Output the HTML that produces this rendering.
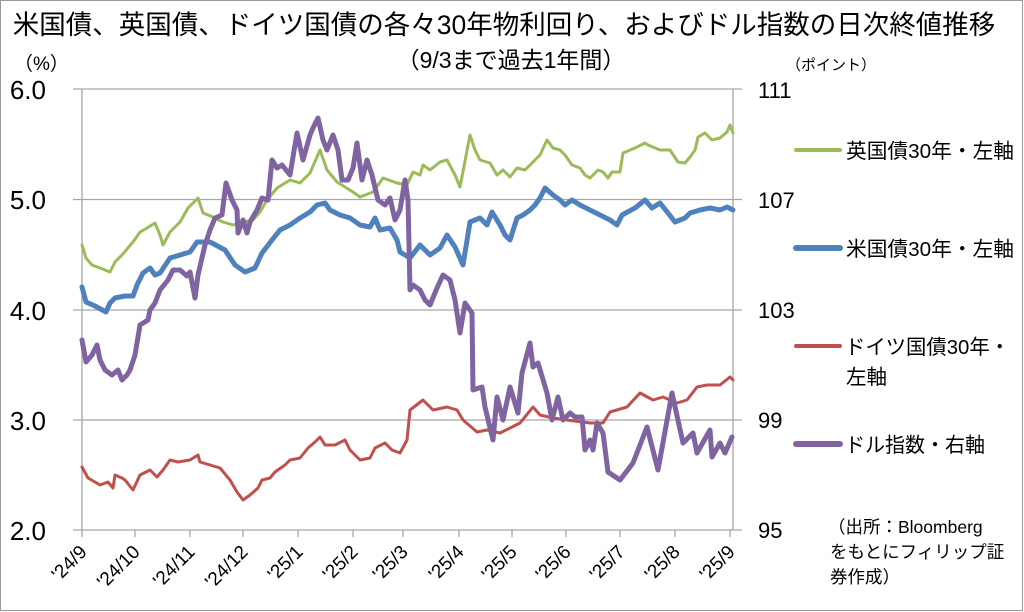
<!DOCTYPE html>
<html><head><meta charset="utf-8"><style>
body{margin:0;background:#fff;}
svg{display:block;font-family:"Liberation Sans","Noto Sans CJK JP",sans-serif;}
</style></head><body>
<svg width="1024" height="612" viewBox="0 0 1024 612" xmlns="http://www.w3.org/2000/svg">
<rect x="0.5" y="0.5" width="1022" height="610" fill="#fff" stroke="#999" stroke-width="1"/>
<text x="504" y="34" font-size="26.5" text-anchor="middle" fill="#000">米国債、英国債、ドイツ国債の各々30年物利回り、およびドル指数の日次終値推移</text>
<text x="511" y="68" font-size="23" text-anchor="middle" fill="#000">（9/3まで過去1年間）</text>
<text x="14" y="70" font-size="19" fill="#000">（%）</text>
<text x="786" y="70" font-size="15" fill="#000">（ポイント）</text>
<g stroke="#a6a6a6" stroke-width="1.3" fill="none">
<line x1="73" y1="89" x2="742" y2="89"/>
<line x1="73" y1="199.5" x2="742" y2="199.5"/>
<line x1="73" y1="310" x2="742" y2="310"/>
<line x1="73" y1="420" x2="742" y2="420"/>
<line x1="73" y1="530" x2="742" y2="530"/>
<line x1="82" y1="89" x2="82" y2="530"/>
<line x1="733" y1="89" x2="733" y2="530"/>
<path d="M82 530v7M135 530v7M190 530v7M243 530v7M298 530v7M353 530v7M403 530v7M459 530v7M512 530v7M566 530v7M620 530v7M675 530v7M730 530v7"/>
</g>
<g font-size="26" fill="#000" text-anchor="end">
<text x="46" y="99">6.0</text><text x="46" y="209">5.0</text><text x="46" y="320">4.0</text><text x="46" y="430">3.0</text><text x="46" y="540">2.0</text>
</g>
<g font-size="22" fill="#000">
<text x="758" y="98">111</text><text x="758" y="208">107</text><text x="758" y="318">103</text><text x="758" y="428">99</text><text x="758" y="538">95</text>
</g>
<g font-size="19" fill="#000" text-anchor="end">
<text transform="translate(88,553) rotate(-45)">'24/9</text>
<text transform="translate(141,553) rotate(-45)">'24/10</text>
<text transform="translate(196,553) rotate(-45)">'24/11</text>
<text transform="translate(249,553) rotate(-45)">'24/12</text>
<text transform="translate(304,553) rotate(-45)">'25/1</text>
<text transform="translate(359,553) rotate(-45)">'25/2</text>
<text transform="translate(409,553) rotate(-45)">'25/3</text>
<text transform="translate(465,553) rotate(-45)">'25/4</text>
<text transform="translate(518,553) rotate(-45)">'25/5</text>
<text transform="translate(572,553) rotate(-45)">'25/6</text>
<text transform="translate(626,553) rotate(-45)">'25/7</text>
<text transform="translate(681,553) rotate(-45)">'25/8</text>
<text transform="translate(736,553) rotate(-45)">'25/9</text>
</g>
<g fill="none" stroke-linejoin="round" stroke-linecap="round">
<polyline stroke="#C0504D" stroke-width="3" points="82,467 88,478 95,482 100,485 108,482 113,488 115,475 122,478 125,480 133,490 140,475 150,470 157,477 163,470 170,460 178,462 190,460 198,455 200,462 210,465 220,468 230,480 237,492 243,500 250,495 258,488 262,480 270,478 275,472 285,465 290,460 300,458 308,448 315,442 320,437 325,445 335,445 345,440 350,450 360,460 370,458 375,448 385,443 392,450 400,453 407,440 410,410 423,400 433,410 447,407 457,410 463,420 477,432 487,430 500,433 510,428 520,423 533,407 540,415 553,418 567,420 590,423 603,423 610,412 627,407 640,393 653,400 663,397 677,403 687,400 697,387 707,385 720,385 730,377 733,380"/>
<polyline stroke="#9BBB59" stroke-width="3" points="82,245 86,258 92,265 100,268 110,272 115,262 122,255 133,242 140,232 147,228 155,223 160,235 163,245 170,232 180,222 188,208 198,198 203,213 213,217 223,222 233,225 243,222 253,220 260,212 267,200 277,188 290,180 300,183 310,173 320,150 327,170 337,182 353,192 360,197 373,192 383,178 397,183 407,185 413,172 420,175 423,165 430,170 440,162 447,160 455,175 460,187 470,135 475,150 480,160 490,163 497,175 503,170 510,177 517,168 525,170 533,162 540,155 547,140 553,148 560,150 565,155 572,165 580,168 585,175 590,178 598,170 603,172 608,178 612,172 620,172 623,153 635,148 645,143 648,145 660,150 670,150 678,162 685,163 690,157 695,150 698,137 705,133 712,140 720,138 727,132 730,125 733,133"/>
<polyline stroke="#4F81BD" stroke-width="5" points="82,287 86,302 95,306 106,312 110,303 115,298 125,296 133,296 137,285 143,273 150,268 155,275 160,273 170,258 180,255 190,252 197,242 210,242 225,250 235,265 245,272 255,268 262,253 272,240 280,230 290,225 300,218 310,212 317,205 325,203 330,210 340,215 350,218 360,225 370,227 375,218 380,230 390,228 397,240 400,252 410,258 420,245 430,255 440,248 447,235 455,247 463,265 470,222 480,218 487,225 492,212 500,225 505,235 510,240 517,218 523,215 530,210 535,205 540,198 545,188 553,195 560,200 565,205 572,200 580,205 590,210 600,215 610,220 617,225 622,215 635,208 645,200 652,208 660,203 668,213 675,222 685,218 690,213 700,210 710,208 720,210 727,207 733,210"/>
<polyline stroke="#8064A2" stroke-width="5" points="82,340 86,362 92,355 97,345 100,360 105,370 112,375 118,370 122,380 127,375 130,370 135,355 140,325 148,320 150,310 155,303 160,290 168,280 173,270 180,270 187,276 190,272 195,298 198,275 205,245 210,230 215,218 222,215 226,183 232,200 237,210 238,233 243,220 247,233 250,222 257,210 262,198 268,200 272,160 277,168 282,165 290,175 297,133 303,160 310,135 313,128 318,118 323,140 327,150 333,135 338,150 342,180 348,180 353,168 357,143 362,180 367,160 372,175 378,200 385,205 390,198 395,220 400,210 405,180 408,200 410,290 413,285 420,290 425,300 430,305 437,288 443,275 450,280 455,300 460,333 465,303 472,313 473,390 482,387 485,407 493,440 497,397 503,420 510,387 518,413 522,373 530,343 533,367 538,363 547,393 552,420 558,397 563,420 570,413 575,417 582,417 585,450 590,440 593,450 597,423 603,433 608,472 620,480 633,463 647,427 658,470 672,393 683,443 693,433 697,453 710,430 712,457 720,443 725,453 732,437"/>
</g>
<g stroke-width="5" stroke-linecap="round">
<line x1="796" y1="150" x2="840" y2="150" stroke="#9BBB59" stroke-width="4"/>
<line x1="796" y1="248" x2="840" y2="248" stroke="#4F81BD" stroke-width="6"/>
<line x1="796" y1="346" x2="840" y2="346" stroke="#C0504D" stroke-width="4"/>
<line x1="796" y1="444" x2="840" y2="444" stroke="#8064A2" stroke-width="6"/>
</g>
<g font-size="20.5" fill="#000">
<text x="846" y="158" textLength="168" lengthAdjust="spacingAndGlyphs">英国債30年・左軸</text>
<text x="846" y="256" textLength="168" lengthAdjust="spacingAndGlyphs">米国債30年・左軸</text>
<text x="845" y="354" textLength="165" lengthAdjust="spacingAndGlyphs">ドイツ国債30年・</text>
<text x="846" y="384">左軸</text>
<text x="845" y="452" textLength="140" lengthAdjust="spacingAndGlyphs">ドル指数・右軸</text>
</g>
<g font-size="17.5" fill="#000">
<text x="828" y="533">（出所：Bloomberg</text>
<text x="830" y="558">をもとにフィリップ証</text>
<text x="830" y="583">券作成）</text>
</g>
</svg>
</body></html>
